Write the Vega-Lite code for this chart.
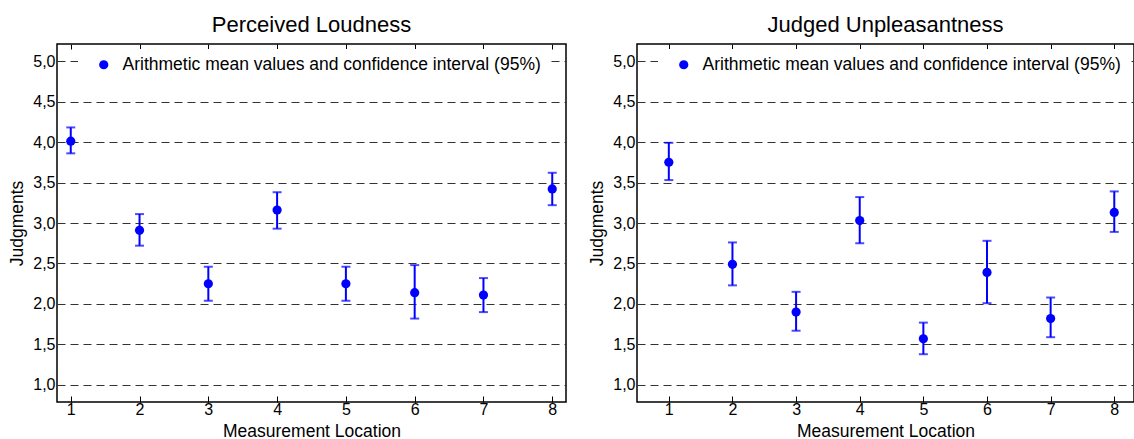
{
  "$schema": "https://vega.github.io/schema/vega-lite/v6.json",
  "autosize": {"type": "pad"},
  "padding": {"left": 8, "top": 12, "right": 0, "bottom": 0},
  "background": "white",
  "bounds": "flush",
  "spacing": 71,
  "config": {
    "font": "Liberation Sans",
    "view": {"stroke": "#000000", "strokeWidth": 1.5},
    "title": {"font": "Liberation Sans", "fontSize": 22, "fontWeight": "normal", "color": "#000000", "offset": 7},
    "axis": {
      "labelFont": "Liberation Sans", "titleFont": "Liberation Sans",
      "labelColor": "#000000", "titleColor": "#000000",
      "labelFontSize": 16, "titleFontSize": 17.5, "titleFontWeight": "normal",
      "domainColor": "#000000", "domainWidth": 2,
      "tickColor": "#000000"
    }
  },
  "resolve": {"legend": {"color": "independent"}, "scale": {"x": "independent", "y": "independent"}},
  "datasets": {
    "judgments": [
      {"panel": "L", "loc": 1, "mean": 4.01, "lo": 3.86, "hi": 4.18, "series": "Arithmetic mean values and confidence interval (95%)"},
      {"panel": "L", "loc": 2, "mean": 2.91, "lo": 2.72, "hi": 3.11, "series": "Arithmetic mean values and confidence interval (95%)"},
      {"panel": "L", "loc": 3, "mean": 2.25, "lo": 2.04, "hi": 2.46, "series": "Arithmetic mean values and confidence interval (95%)"},
      {"panel": "L", "loc": 4, "mean": 3.16, "lo": 2.93, "hi": 3.38, "series": "Arithmetic mean values and confidence interval (95%)"},
      {"panel": "L", "loc": 5, "mean": 2.25, "lo": 2.04, "hi": 2.46, "series": "Arithmetic mean values and confidence interval (95%)"},
      {"panel": "L", "loc": 6, "mean": 2.14, "lo": 1.82, "hi": 2.48, "series": "Arithmetic mean values and confidence interval (95%)"},
      {"panel": "L", "loc": 7, "mean": 2.11, "lo": 1.90, "hi": 2.32, "series": "Arithmetic mean values and confidence interval (95%)"},
      {"panel": "L", "loc": 8, "mean": 3.42, "lo": 3.22, "hi": 3.62, "series": "Arithmetic mean values and confidence interval (95%)"},
      {"panel": "R", "loc": 1, "mean": 3.75, "lo": 3.53, "hi": 3.99, "series": "Arithmetic mean values and confidence interval (95%)"},
      {"panel": "R", "loc": 2, "mean": 2.49, "lo": 2.23, "hi": 2.76, "series": "Arithmetic mean values and confidence interval (95%)"},
      {"panel": "R", "loc": 3, "mean": 1.90, "lo": 1.67, "hi": 2.15, "series": "Arithmetic mean values and confidence interval (95%)"},
      {"panel": "R", "loc": 4, "mean": 3.03, "lo": 2.75, "hi": 3.32, "series": "Arithmetic mean values and confidence interval (95%)"},
      {"panel": "R", "loc": 5, "mean": 1.57, "lo": 1.38, "hi": 1.77, "series": "Arithmetic mean values and confidence interval (95%)"},
      {"panel": "R", "loc": 6, "mean": 2.39, "lo": 2.01, "hi": 2.78, "series": "Arithmetic mean values and confidence interval (95%)"},
      {"panel": "R", "loc": 7, "mean": 1.82, "lo": 1.59, "hi": 2.08, "series": "Arithmetic mean values and confidence interval (95%)"},
      {"panel": "R", "loc": 8, "mean": 3.13, "lo": 2.89, "hi": 3.39, "series": "Arithmetic mean values and confidence interval (95%)"}
    ]
  },
  "hconcat": [
    {
      "width": 509, "height": 358,
      "title": {"text": "Perceived Loudness"},
      "data": {"name": "judgments"},
      "transform": [{"filter": "datum.panel === 'L'"}],
      "resolve": {"axis": {"x": "independent"}},
      "layer": [
        {
          "mark": {"type": "rule", "color": "#0000ff", "strokeWidth": 2},
          "encoding": {
            "x": {"field": "loc", "type": "quantitative", "scale": {"domain": [0.8, 8.2], "nice": false, "zero": false},
                  "axis": {"title": "Measurement Location", "values": [1,2,3,4,5,6,7,8], "grid": false, "domain": false, "tickSize": -6, "labelPadding": 5, "titlePadding": 5}},
            "y": {"field": "lo", "type": "quantitative", "scale": {"domain": [0.79, 5.21], "nice": false, "zero": false},
                  "axis": {"title": "Judgments", "values": [1,1.5,2,2.5,3,3.5,4,4.5,5], "labelExpr": "replace(format(datum.value, '.1f'), '.', ',')",
                           "grid": true, "gridDash": [8, 5], "gridColor": "#333333", "gridWidth": 1, "ticks": false, "domain": false, "labelPadding": 2, "titlePadding": 6}},
            "y2": {"field": "hi"}
          }
        },
        {
          "mark": {"type": "tick", "orient": "horizontal", "color": "#0000ff", "thickness": 2, "size": 9},
          "encoding": {
            "x": {"field": "loc", "type": "quantitative", "axis": null},
            "y": {"field": "lo", "type": "quantitative"}
          }
        },
        {
          "mark": {"type": "tick", "orient": "horizontal", "color": "#0000ff", "thickness": 2, "size": 9},
          "encoding": {
            "x": {"field": "loc", "type": "quantitative", "axis": null},
            "y": {"field": "hi", "type": "quantitative"}
          }
        },
        {
          "mark": {"type": "circle", "size": 85, "opacity": 1},
          "encoding": {
            "x": {"field": "loc", "type": "quantitative", "axis": {"orient": "top", "values": [1,2,3,4,5,6,7,8], "labels": false, "grid": false, "domain": false, "tickSize": -5, "title": null}},
            "y": {"field": "mean", "type": "quantitative"},
            "color": {"field": "series", "type": "nominal", "scale": {"range": ["#0000ff"]},
                      "legend": {"title": null, "orient": "none", "legendX": 21, "legendY": 5, "fillColor": "#ffffff", "padding": 7,
                                 "symbolType": "circle", "symbolSize": 85, "symbolStrokeWidth": 0, "symbolOffset": 10, "labelOffset": 10,
                                 "labelFontSize": 17.5, "labelFont": "Liberation Sans", "labelColor": "#000000", "labelLimit": 600}}
          }
        }
      ]
    },
    {
      "width": 497, "height": 358,
      "title": {"text": "Judged Unpleasantness"},
      "data": {"name": "judgments"},
      "transform": [{"filter": "datum.panel === 'R'"}],
      "resolve": {"axis": {"x": "independent"}},
      "layer": [
        {
          "mark": {"type": "rule", "color": "#0000ff", "strokeWidth": 2},
          "encoding": {
            "x": {"field": "loc", "type": "quantitative", "scale": {"domain": [0.5, 8.31], "nice": false, "zero": false},
                  "axis": {"title": "Measurement Location", "values": [1,2,3,4,5,6,7,8], "grid": false, "domain": false, "tickSize": -6, "labelPadding": 5, "titlePadding": 5}},
            "y": {"field": "lo", "type": "quantitative", "scale": {"domain": [0.79, 5.21], "nice": false, "zero": false},
                  "axis": {"title": "Judgments", "values": [1,1.5,2,2.5,3,3.5,4,4.5,5], "labelExpr": "replace(format(datum.value, '.1f'), '.', ',')",
                           "grid": true, "gridDash": [8, 5], "gridColor": "#333333", "gridWidth": 1, "ticks": false, "domain": false, "labelPadding": 2, "titlePadding": 6}},
            "y2": {"field": "hi"}
          }
        },
        {
          "mark": {"type": "tick", "orient": "horizontal", "color": "#0000ff", "thickness": 2, "size": 9},
          "encoding": {
            "x": {"field": "loc", "type": "quantitative", "axis": null},
            "y": {"field": "lo", "type": "quantitative"}
          }
        },
        {
          "mark": {"type": "tick", "orient": "horizontal", "color": "#0000ff", "thickness": 2, "size": 9},
          "encoding": {
            "x": {"field": "loc", "type": "quantitative", "axis": null},
            "y": {"field": "hi", "type": "quantitative"}
          }
        },
        {
          "mark": {"type": "circle", "size": 85, "opacity": 1},
          "encoding": {
            "x": {"field": "loc", "type": "quantitative", "axis": {"orient": "top", "values": [1,2,3,4,5,6,7,8], "labels": false, "grid": false, "domain": false, "tickSize": -5, "title": null}},
            "y": {"field": "mean", "type": "quantitative"},
            "color": {"field": "series", "type": "nominal", "scale": {"range": ["#0000ff"]},
                      "legend": {"title": null, "orient": "none", "legendX": 21, "legendY": 5, "fillColor": "#ffffff", "padding": 7,
                                 "symbolType": "circle", "symbolSize": 85, "symbolStrokeWidth": 0, "symbolOffset": 10, "labelOffset": 10,
                                 "labelFontSize": 17.5, "labelFont": "Liberation Sans", "labelColor": "#000000", "labelLimit": 600}}
          }
        }
      ]
    }
  ]
}
